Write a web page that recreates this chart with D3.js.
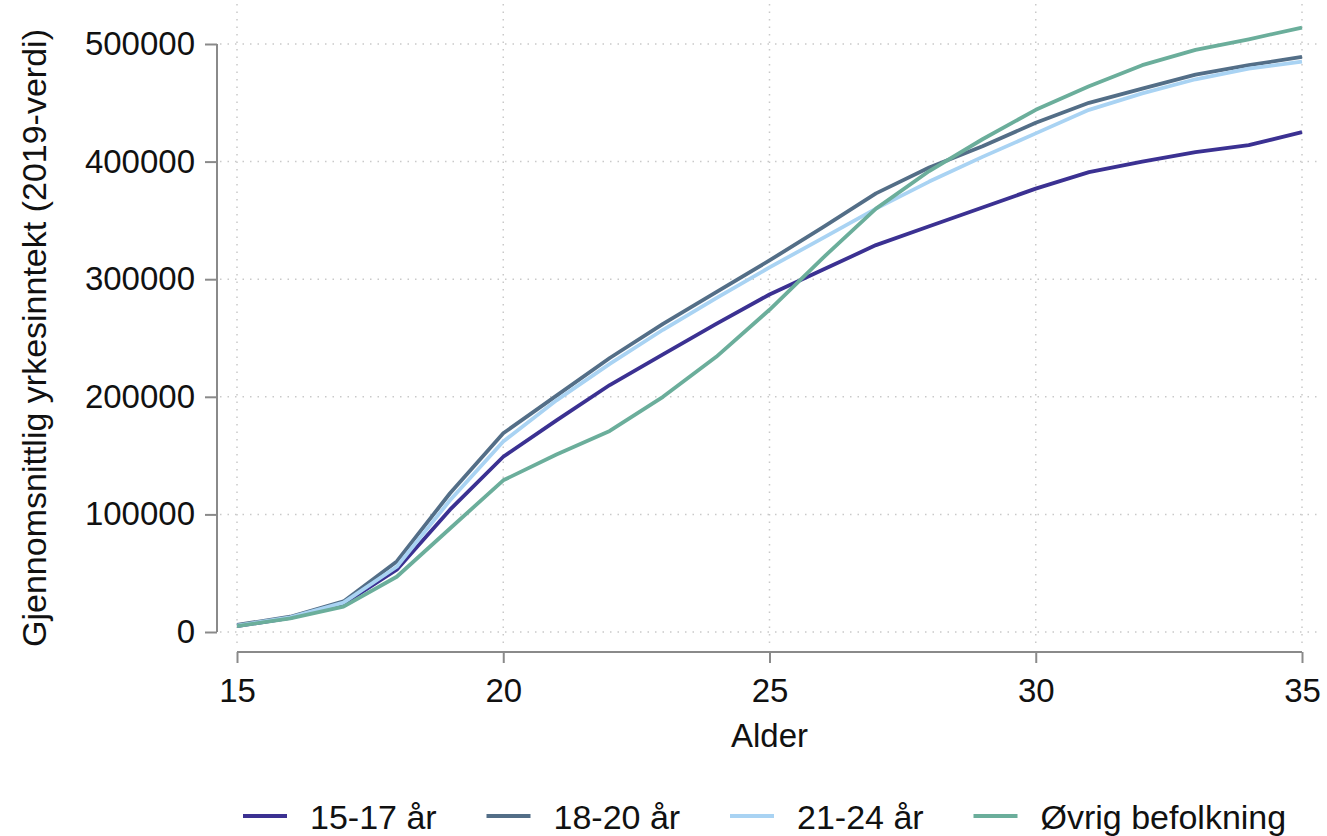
<!DOCTYPE html>
<html>
<head>
<meta charset="utf-8">
<script src="https://cdn.jsdelivr.net/npm/d3@7"></script>
<style>
  html, body { margin: 0; padding: 0; background: #fff; }
  svg { display: block; font-family: "Liberation Sans", Arial, Helvetica, sans-serif; }
</style>
</head>
<body>
<svg id="chart" width="1327" height="836"></svg>
<script>
const ages = d3.range(15, 36);
const seriesNames = ["15-17 år", "18-20 år", "21-24 år", "Øvrig befolkning"];
const seriesColors = ["#3b3192", "#536e87", "#a9d3f3", "#6bae9b"];
const s1517 = [5000, 12000, 24000, 53000, 104000, 149000, 180000, 210000, 236000, 262000, 287000, 308000, 329000, 345000, 361000, 377000, 391000, 400000, 408000, 414000, 425000];
const s1820 = [6000, 13000, 26000, 60000, 118000, 169000, 201000, 233000, 262000, 289000, 316000, 344000, 373000, 395000, 413000, 433000, 450000, 462000, 474000, 482000, 489000];
const s2124 = [5500, 12500, 25000, 55500, 112000, 162000, 197000, 228000, 257000, 284000, 310000, 335000, 360000, 383000, 404000, 424000, 444000, 458000, 470000, 479000, 485000];
const sOvrig = [5000, 11500, 21500, 47000, 88000, 129000, 151000, 171000, 200000, 234000, 274000, 318000, 360000, 392000, 419000, 444000, 464000, 482000, 495000, 504000, 514000];
const xTicks = [15, 20, 25, 30, 35];
const yTicks = [0, 100000, 200000, 300000, 400000, 500000];
const xTitle = "Alder";
const yTitle = "Gjennomsnittlig yrkesinntekt (2019-verdi)";

const allSeries = [s1517, s1820, s2124, sOvrig];

const svg = d3.select("#chart");
const x = d3.scaleLinear().domain([15, 35]).range([237, 1302]);
const y = d3.scaleLinear().domain([0, 500000]).range([632, 44]);

const gridColor = "#c9c9c9";
// grid
svg.append("g").selectAll("line").data(yTicks).join("line")
  .attr("x1", 220).attr("x2", 1322)
  .attr("y1", d => y(d)).attr("y2", d => y(d))
  .attr("stroke", gridColor).attr("stroke-width", 1.5).attr("stroke-dasharray", "1.5,6");
svg.append("g").selectAll("line").data(xTicks).join("line")
  .attr("x1", d => x(d)).attr("x2", d => x(d))
  .attr("y1", 4).attr("y2", 648)
  .attr("stroke", gridColor).attr("stroke-width", 1.5).attr("stroke-dasharray", "1.5,6");

// axes
const axisColor = "#8a8a8a";
const yAxis = d3.axisLeft(y).tickValues(yTicks).tickFormat(d3.format("d")).tickSize(12).tickPadding(10);
const gy = svg.append("g").attr("transform", "translate(217,0)").call(yAxis);
gy.select(".domain").attr("d", `M0,${y(0)}V${y(500000)}`);
const xAxis = d3.axisBottom(x).tickValues(xTicks).tickFormat(d3.format("d")).tickSize(11).tickPadding(9);
const gx = svg.append("g").attr("transform", "translate(0,652)").call(xAxis);
gx.select(".domain").attr("d", `M${x(15)},0H${x(35)}`);
[gx, gy].forEach(g => {
  g.select(".domain").attr("stroke", axisColor).attr("stroke-width", 2).attr("fill", "none");
  g.selectAll(".tick line").attr("stroke", axisColor).attr("stroke-width", 2);
  g.selectAll(".tick text").attr("fill", "#111").style("font-size", "33px")
    .style("font-family", "'Liberation Sans', Arial, sans-serif");
});
gx.selectAll(".tick text").attr("dy", "0.92em");

// lines
const line = d3.line().x((d, i) => x(ages[i])).y(d => y(d));
svg.append("g").selectAll("path").data(allSeries).join("path")
  .attr("d", d => line(d))
  .attr("fill", "none")
  .attr("stroke", (d, i) => seriesColors[i])
  .attr("stroke-width", 3.8)
  .attr("stroke-linejoin", "round");

// titles
svg.append("text").attr("x", x(25)).attr("y", 747).attr("text-anchor", "middle")
  .style("font-size", "33px").attr("fill", "#111").text(xTitle);
svg.append("text").attr("transform", `translate(46,${(y(0) + y(500000)) / 2}) rotate(-90)`)
  .attr("text-anchor", "middle").style("font-size", "34px").attr("fill", "#111").text(yTitle);

// legend
const legend = svg.append("g").selectAll("g").data(seriesNames).join("g")
  .attr("transform", (d, i) => `translate(${243 + i * 243.5},816)`);
legend.append("line").attr("x1", 0).attr("x2", 44).attr("y1", 0).attr("y2", 0)
  .attr("stroke", (d, i) => seriesColors[i]).attr("stroke-width", 4);
legend.append("text").attr("x", 67).attr("y", 13).style("font-size", "34px").attr("fill", "#111")
  .text(d => d);
</script>
</body>
</html>
